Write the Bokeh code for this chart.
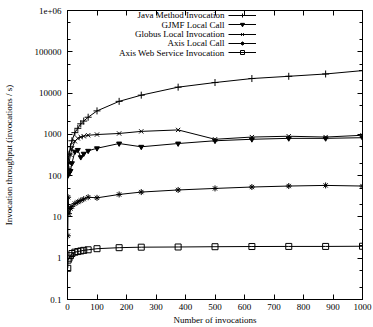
from bokeh.plotting import figure
from bokeh.models import (Range1d, LinearAxis, LogAxis, FixedTicker, CustomJSTickFormatter,
                          Legend, LegendItem, Label)
from bokeh.embed import file_html
from bokeh.resources import INLINE

# ---- data ----
n_invocations = [1, 2, 5, 10, 15, 25, 35, 45, 55, 70, 100, 175, 250, 375, 500, 625, 750, 875, 1000]
java_method = [150, 210, 330, 500, 700, 1100, 1400, 1800, 2100, 2600, 3700, 6300, 8900, 13900,
               18000, 22500, 25500, 29000, 35000]
gjmf_local = [100, 110, 115, 130, 200, 380, 420, 280, 340, 400, 460, 600, 500, 600,
              700, 760, 800, 800, 830]
globus_local = [110, 150, 200, 320, 450, 680, 800, 860, 900, 950, 990, 1050, 1180, 1280,
                760, 860, 900, 860, 950]
axis_local = [3.5, 30, 12, 16, 18, 21, 23, 25, 27, 30, 29, 35, 40, 45, 49, 53, 56, 58, 56]
axis_ws = [0.57, 0.9, 1.0, 1.15, 1.3, 1.4, 1.45, 1.5, 1.55, 1.6, 1.7, 1.8, 1.85, 1.87,
           1.9, 1.92, 1.93, 1.93, 1.95]

series_names = ["Java Method Invocation", "GJMF Local Call", "Globus Local Invocation",
                "Axis Local Call", "Axis Web Service Invocation"]
series_values = [java_method, gjmf_local, globus_local, axis_local, axis_ws]
series_markers = ["cross", "inverted_triangle", "x", "asterisk", "square"]
series_fill = ["black", "black", "black", "black", None]
series_size = [7, 5, 6, 6, 6]

x_ticks = [0, 100, 200, 300, 400, 500, 600, 700, 800, 900, 1000]
y_ticks = [0.1, 1, 10, 100, 1000, 10000, 100000, 1000000]
y_minor = [m * d for d in [0.1, 1, 10, 100, 1000, 10000, 100000] for m in (2, 5)]

FONT = "Liberation Serif"

p = figure(width=373, height=327, x_range=Range1d(0, 1000), y_range=Range1d(0.1, 1e6),
           y_axis_type="log", output_backend="svg", toolbar_location=None,
           min_border_left=66, min_border_right=11, min_border_top=10, min_border_bottom=27)
p.xgrid.visible = False
p.ygrid.visible = False
p.outline_line_color = "black"
p.outline_line_width = 1
p.background_fill_color = "white"
p.border_fill_color = "white"

fmt_y = CustomJSTickFormatter(code="return tick >= 1e6 ? '1e+06' : String(Math.round(tick*10)/10);")
blank = CustomJSTickFormatter(code="return '';")

def style_axis(ax, labels=True):
    ax.axis_line_color = "black"
    ax.major_tick_line_color = "black"
    ax.minor_tick_line_color = "black"
    ax.major_tick_in = 5
    ax.major_tick_out = 0
    ax.minor_tick_in = 3
    ax.minor_tick_out = 0
    ax.major_label_text_font = FONT
    ax.major_label_text_font_size = "9px" if labels else "0px"
    ax.major_label_text_color = "black"
    ax.axis_label_text_font = FONT
    ax.axis_label_text_font_size = "9px"
    ax.axis_label_text_font_style = "normal"
    ax.axis_label_text_color = "black"

p.xaxis.ticker = FixedTicker(ticks=x_ticks, minor_ticks=[])
p.yaxis.ticker = FixedTicker(ticks=y_ticks, minor_ticks=y_minor)
p.yaxis.formatter = fmt_y
style_axis(p.xaxis[0])
style_axis(p.yaxis[0])
p.xaxis.axis_label = "Number of invocations"
p.yaxis.axis_label = "Invocation throughput (invocations / s)"
p.xaxis.major_label_standoff = 4
p.xaxis.axis_label_standoff = 2
p.yaxis.major_label_standoff = 6
p.yaxis.axis_label_standoff = 18

top = LinearAxis(ticker=FixedTicker(ticks=x_ticks, minor_ticks=[]), formatter=blank,
                 major_label_standoff=0)
style_axis(top, labels=False)
p.add_layout(top, "above")
right = LogAxis(ticker=FixedTicker(ticks=y_ticks, minor_ticks=y_minor), formatter=blank,
                major_label_standoff=0)
style_axis(right, labels=False)
p.add_layout(right, "right")

# frame geometry (screen px) used for the gnuplot-style key
frame_h = 327 - 10 - 27
row_centers = [15.7, 25.1, 34.5, 43.9, 53.3]
GH = 10

for name, vals, mk, fill, sz, rc in zip(series_names, series_values, series_markers,
                                        series_fill, series_size, row_centers):
    r_line = p.line(n_invocations, vals, line_color="black", line_width=1)
    r_pts = p.scatter(n_invocations, vals, marker=mk, size=sz, line_color="black",
                      fill_color=fill, line_width=1)
    # key sample (line + marker) to the right of the right-aligned text
    leg = Legend(items=[LegendItem(label=" ", renderers=[r_line, r_pts])],
                 location=(227 - 66, frame_h - (rc - 10) - GH / 2),
                 glyph_width=28, glyph_height=GH, label_height=GH, label_width=0,
                 label_standoff=0, label_text_font_size="1px", padding=0, margin=0,
                 spacing=0, border_line_alpha=0, background_fill_alpha=0)
    p.add_layout(leg, "center")
    p.add_layout(Label(x=223 - 66, y=frame_h - (rc - 10), x_units="screen", y_units="screen",
                       text=name, text_align="right", text_baseline="middle",
                       text_font=FONT, text_font_size="9px", text_color="black"))

open("out.html", "w").write(file_html(p, INLINE))
